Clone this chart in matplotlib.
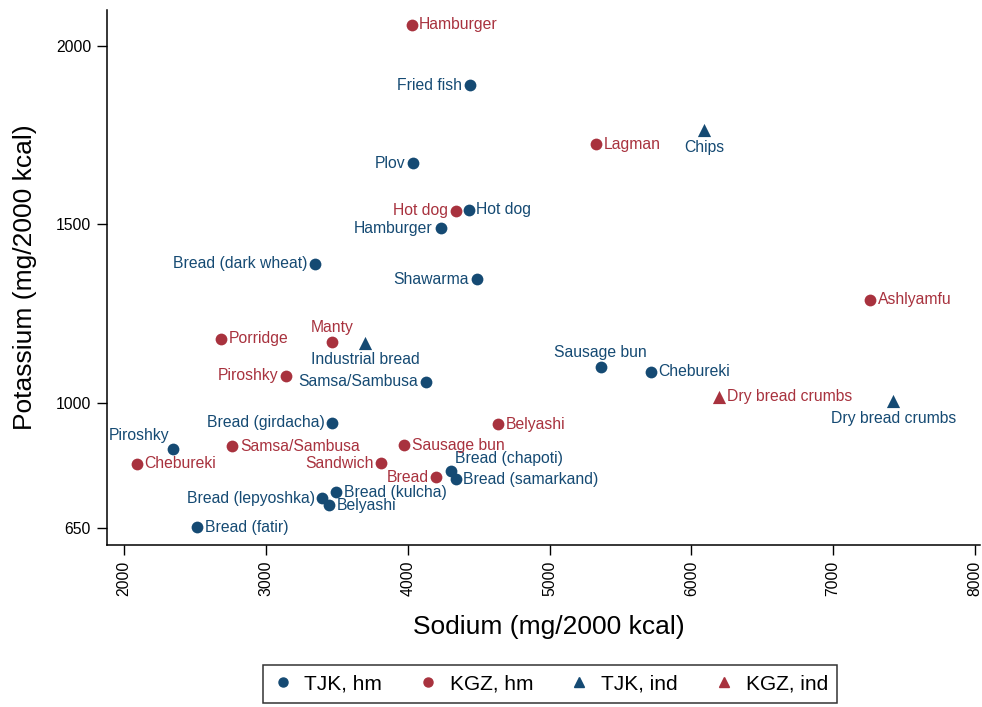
import matplotlib
matplotlib.use("Agg")
import matplotlib.pyplot as plt
from matplotlib.lines import Line2D
from matplotlib import font_manager as fm
import os

# pick the regular (non-narrow) Liberation Sans explicitly
fam = 'DejaVu Sans'
for f in fm.findSystemFonts():
    if os.path.basename(f) == 'LiberationSans-Regular.ttf':
        fm.fontManager.addfont(f)
        fam = fm.FontProperties(fname=f).get_name()
        break
plt.rcParams['font.family'] = [fam, 'DejaVu Sans']

# ---- data ----
tjk_hm_names = ["Fried fish", "Plov", "Hot dog", "Hamburger", "Bread (dark wheat)", "Shawarma",
                "Samsa/Sambusa", "Sausage bun", "Chebureki", "Bread (girdacha)", "Piroshky",
                "Bread (chapoti)", "Bread (samarkand)", "Bread (kulcha)", "Bread (lepyoshka)",
                "Belyashi", "Bread (fatir)"]
tjk_hm_sodium = [4436, 4034, 4429, 4232, 3349, 4486, 4126, 5362, 5715, 3469, 2346,
                 4302, 4338, 3497, 3398, 3448, 2516]
tjk_hm_potassium = [1890, 1671, 1542, 1489, 1390, 1346, 1059, 1101, 1087, 944, 871,
                    809, 786, 750, 733, 713, 652]

kgz_hm_names = ["Hamburger", "Lagman", "Hot dog", "Ashlyamfu", "Porridge", "Manty", "Piroshky",
                "Belyashi", "Samsa/Sambusa", "Sausage bun", "Sandwich", "Chebureki", "Bread"]
kgz_hm_sodium = [4027, 5326, 4338, 7261, 2685, 3469, 3144, 4634, 2763, 3977, 3815, 2092, 4203]
kgz_hm_potassium = [2059, 1725, 1539, 1289, 1180, 1171, 1076, 941, 879, 882, 831, 829, 792]

tjk_ind_names = ["Chips", "Industrial bread", "Dry bread crumbs"]
tjk_ind_sodium = [6089, 3702, 7424]
tjk_ind_potassium = [1764, 1169, 1006]

kgz_ind_names = ["Dry bread crumbs"]
kgz_ind_sodium = [6195]
kgz_ind_potassium = [1017]

x_ticks = [2000, 3000, 4000, 5000, 6000, 7000, 8000]
y_ticks = [650, 1000, 1500, 2000]
legend_labels = ["TJK, hm", "KGZ, hm", "TJK, ind", "KGZ, ind"]

# ---- label placement (clock positions, styling only) ----
tjk_hm_pos = [9, 9, 3, 9, 9, 9, 9, 12, 3, 9, 11, 1, 3, 3, 9, 3, 3]
kgz_hm_pos = [3, 3, 9, 3, 3, 12, 9, 3, 3, 3, 9, 3, 9]
tjk_ind_pos = [6, 6, 6]
kgz_ind_pos = [3]

BLUE = "#154a73"
RED = "#a8323e"

fig = plt.figure(figsize=(9.82, 7.07), dpi=100)
ax = fig.add_axes([107/982, 1-545/707, (980-107)/982, (545-10)/707])

OFF = {
    3: ((5.5, 0), 'left', 'center'),
    9: ((-5.5, 0), 'right', 'center'),
    12: ((0, 5), 'center', 'bottom'),
    6: ((0, -7), 'center', 'top'),
    11: ((-3, 4), 'right', 'bottom'),
    1: ((3, 4), 'left', 'bottom'),
}

def draw(names, xs, ys, pos, color, marker, size):
    ax.scatter(xs, ys, s=size, c=color, marker=marker, linewidths=0, zorder=3)
    for n, x, y, p in zip(names, xs, ys, pos):
        (dx, dy), ha, va = OFF[p]
        ax.annotate(n, (x, y), xytext=(dx, dy), textcoords='offset points',
                    ha=ha, va=va, color=color, fontsize=11.3)

draw(tjk_hm_names, tjk_hm_sodium, tjk_hm_potassium, tjk_hm_pos, BLUE, 'o', 72)
draw(kgz_hm_names, kgz_hm_sodium, kgz_hm_potassium, kgz_hm_pos, RED, 'o', 72)
draw(tjk_ind_names, tjk_ind_sodium, tjk_ind_potassium, tjk_ind_pos, BLUE, '^', 90)
draw(kgz_ind_names, kgz_ind_sodium, kgz_ind_potassium, kgz_ind_pos, RED, '^', 90)

ax.set_xlim(1880, 8035)
ax.set_ylim(602, 2101)
ax.set_xticks(x_ticks)
ax.set_yticks(y_ticks)
ax.set_xticklabels([str(t) for t in x_ticks], rotation=90)
ax.tick_params(axis='both', labelsize=11.3, length=7.5, width=1, color='black', direction='out', pad=4)
for s in ['top', 'right']:
    ax.spines[s].set_visible(False)
for s in ['left', 'bottom']:
    ax.spines[s].set_linewidth(1.1)
    ax.spines[s].set_color('black')

fig.text(549/982, 1-627/707, "Sodium (mg/2000 kcal)", ha='center', va='center', fontsize=19)
fig.text(25/982, 1-277/707, "Potassium (mg/2000 kcal)", ha='center', va='center', fontsize=19, rotation=90)

handles = [Line2D([], [], ls='none', marker='o', color=BLUE, markersize=6.5),
           Line2D([], [], ls='none', marker='o', color=RED, markersize=6.5),
           Line2D([], [], ls='none', marker='^', color=BLUE, markersize=6.5),
           Line2D([], [], ls='none', marker='^', color=RED, markersize=6.5)]
leg = fig.legend(handles, legend_labels, loc='center', bbox_to_anchor=(550/982, 1-684/707),
                 ncol=4, fontsize=15, frameon=True, fancybox=False, edgecolor='black',
                 handlelength=1.0, handletextpad=0.55, columnspacing=1.7, borderpad=0.45,
                 borderaxespad=0)
leg.get_frame().set_linewidth(1.1)

fig.savefig("out.png", dpi=100)
